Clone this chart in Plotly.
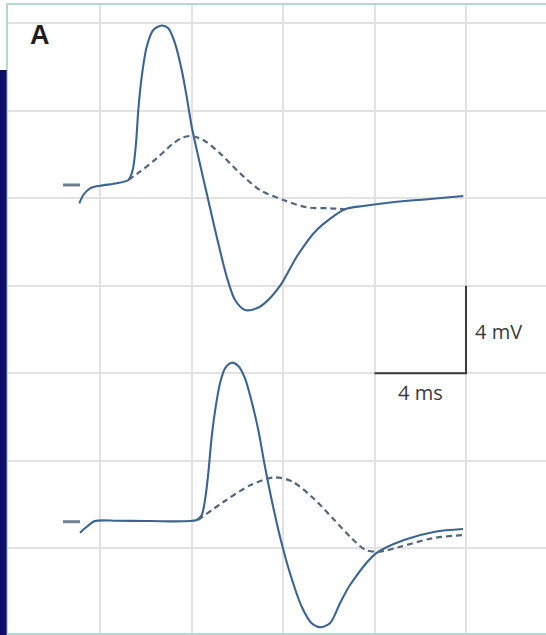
import plotly.graph_objects as go

# ---- data (time in ms, potential in mV) ----
top_solid_t = [-0.905, -0.730, -0.437, 0.0, 0.730, 1.237, 1.430, 1.574, 1.674, 1.823, 2.042, 2.330,
               2.697, 2.986, 3.279, 3.572, 3.790, 4.009, 4.297, 4.664, 5.102, 5.539, 5.902, 6.339,
               6.850, 7.300, 7.943, 8.599, 9.473, 10.710, 11.511, 12.970, 14.426, 15.882]
top_solid_v = [7.771, 8.151, 8.457, 8.576, 8.686, 8.837, 9.294, 10.514, 12.037, 13.559, 14.930, 15.694,
               15.900, 15.771, 15.086, 13.865, 12.645, 11.273, 9.902, 8.229, 6.245, 4.416, 3.351, 2.894,
               2.971, 3.300, 4.114, 5.330, 6.551, 7.497, 7.648, 7.845, 7.968, 8.105]

top_dash_t = [1.237, 1.749, 2.479, 3.204, 3.642, 4.009, 4.516, 5.246, 6.120, 6.995, 8.013, 9.036, 10.055, 10.710]
top_dash_v = [8.837, 9.216, 9.829, 10.514, 10.789, 10.848, 10.665, 10.057, 9.143, 8.380, 7.923, 7.589, 7.543, 7.497]

bot_solid_t = [-0.874, -0.581, -0.219, 0.730, 2.186, 4.227, 4.446, 4.590, 4.734, 4.883, 5.058, 5.246,
               5.465, 5.757, 6.046, 6.339, 6.632, 6.920, 7.213, 7.506, 7.869, 8.306, 8.818, 9.255,
               9.618, 10.055, 10.492, 10.929, 12.066, 13.290, 14.645, 15.869]
bot_solid_v = [-7.287, -7.013, -6.752, -6.738, -6.752, -6.706, -6.478, -5.792, -4.571, -2.898, -1.527, -0.457,
               0.229, 0.485, 0.334, -0.229, -1.298, -2.592, -4.270, -5.792, -7.470, -9.143, -10.670, -11.429,
               -11.611, -11.429, -10.514, -9.678, -8.229, -7.620, -7.241, -7.118]

bot_dash_t = [4.284, 5.521, 6.588, 7.650, 8.415, 9.329, 10.243, 11.003, 11.611, 12.219, 13.133, 14.505, 15.869]
bot_dash_v = [-6.706, -5.792, -5.106, -4.754, -4.955, -5.714, -6.706, -7.543, -8.078, -8.155, -7.927, -7.543, -7.392]

ref_t = [-1.617, -0.874]
top_ref_v = 8.609
bot_ref_v = -6.784

grid_step = 4          # ms per division and mV per division
bar_t = [12, 16]       # 4 ms scale bar
bar_v = [0, 4]         # 4 mV scale bar

solid_col = "#3c6490"
dash_col = "#52677e"
ref_col = "#6f7f90"

fig = go.Figure()

for t, v in [(top_solid_t, top_solid_v), (bot_solid_t, bot_solid_v)]:
    fig.add_trace(go.Scatter(x=t, y=v, mode="lines",
                             line=dict(color=solid_col, width=2.1, shape="spline", smoothing=0.8),
                             hoverinfo="skip", showlegend=False))
for t, v in [(top_dash_t, top_dash_v), (bot_dash_t, bot_dash_v)]:
    fig.add_trace(go.Scatter(x=t, y=v, mode="lines",
                             line=dict(color=dash_col, width=2.2, dash="6px,4px", shape="spline", smoothing=0.8),
                             hoverinfo="skip", showlegend=False))
for rv in [top_ref_v, bot_ref_v]:
    fig.add_trace(go.Scatter(x=ref_t, y=[rv, rv], mode="lines",
                             line=dict(color=ref_col, width=3),
                             hoverinfo="skip", showlegend=False))

# scale bars
fig.add_trace(go.Scatter(x=[bar_t[0], bar_t[1], bar_t[1]], y=[bar_v[0], bar_v[0], bar_v[1]], mode="lines",
                         line=dict(color="#3a3a3a", width=2), hoverinfo="skip", showlegend=False))

fig.add_annotation(x=bar_t[1] + 0.3, y=(bar_v[0] + bar_v[1]) / 2 - 0.1, text="4 mV", showarrow=False,
                   xanchor="left", yanchor="middle",
                   font=dict(family="Open Sans", size=20, color="#3a3a3a"))
fig.add_annotation(x=(bar_t[0] + bar_t[1]) / 2, y=bar_v[0] - 0.9, text="4 ms", showarrow=False,
                   xanchor="center", yanchor="middle",
                   font=dict(family="Open Sans", size=20, color="#3a3a3a"))
fig.add_annotation(x=-2.62, y=15.47, text="<b>A</b>", showarrow=False,
                   xanchor="center", yanchor="middle",
                   font=dict(family="Liberation Sans", size=27, color="#1e1e1e"))

# dark navy strip at the left edge
fig.add_shape(type="rect", xref="paper", yref="paper",
              x0=-0.0149, x1=-0.0025, y0=-0.01, y1=0.8965,
              fillcolor="#0e0e66", line=dict(width=0), layer="above")

border_col = "#b6d9cf"
fig.update_xaxes(range=[-4.022, 19.497], tick0=0, dtick=grid_step, showgrid=True,
                 gridcolor="#e2e2e2", gridwidth=2, zeroline=False, showticklabels=False,
                 ticks="", showline=True, mirror=True, linecolor=border_col, linewidth=2)
fig.update_yaxes(range=[-11.872, 16.837], tick0=0, dtick=grid_step, showgrid=True,
                 gridcolor="#e2e2e2", gridwidth=2, zeroline=False, showticklabels=False,
                 ticks="", showline=True, mirror=False, linecolor=border_col, linewidth=2)

fig.update_layout(width=546, height=635, margin=dict(l=8, r=0, t=5, b=2),
                  plot_bgcolor="white", paper_bgcolor="white")

fig.write_html("out.html", config={"displayModeBar": False},
               post_script="document.body.style.margin='0px';document.body.style.overflow='hidden';")
